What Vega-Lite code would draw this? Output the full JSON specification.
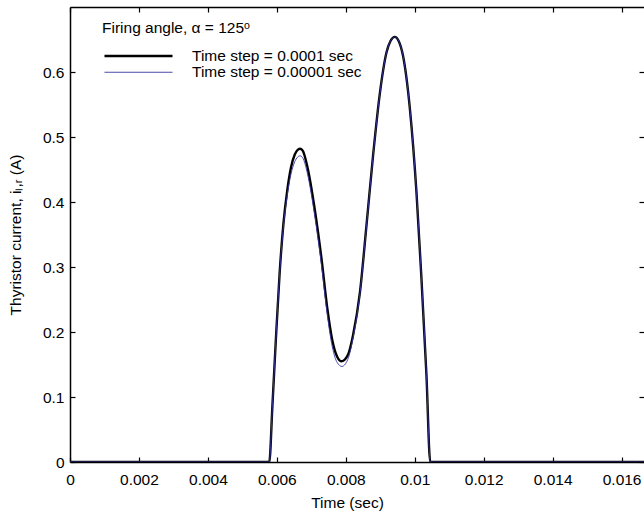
{
  "$schema": "https://vega.github.io/schema/vega-lite/v6.json",
  "width": 574,
  "height": 455,
  "autosize": {"type": "none"},
  "padding": {"left": 70, "top": 7, "right": 0, "bottom": 50},
  "background": "white",
  "config": {
    "view": {"stroke": null},
    "font": "Liberation Sans",
    "style": {
      "guide-title": {"font": "Liberation Sans", "fontSize": 15.5, "fontWeight": "normal", "fill": "#000"},
      "guide-label": {"font": "Liberation Sans", "fontSize": 15.5, "fill": "#000"}
    },
    "axis": {
      "grid": false,
      "domainColor": "#000",
      "domainWidth": 1.5,
      "tickColor": "#000",
      "tickWidth": 1.2,
      "tickSize": -5,
      "labelFont": "Liberation Sans",
      "labelFontSize": 15.5,
      "labelColor": "#000",
      "titleFont": "Liberation Sans",
      "titleFontSize": 15.5,
      "titleFontWeight": "normal",
      "titleColor": "#000"
    },
    "legend": {
      "titleFont": "Liberation Sans", "titleFontSize": 15.5, "titleFontWeight": "normal", "titleColor": "#000",
      "labelFont": "Liberation Sans", "labelFontSize": 15.5, "labelColor": "#000", "labelLimit": 400, "titleLimit": 400
    }
  },
  "data": {
    "values": [
      {"t": 0, "i": 0, "s": "Time step = 0.0001 sec"},
      {"t": 0.00578, "i": 0, "s": "Time step = 0.0001 sec"},
      {"t": 0.00587, "i": 0.085, "s": "Time step = 0.0001 sec"},
      {"t": 0.00597, "i": 0.187, "s": "Time step = 0.0001 sec"},
      {"t": 0.00608, "i": 0.29, "s": "Time step = 0.0001 sec"},
      {"t": 0.00619, "i": 0.366, "s": "Time step = 0.0001 sec"},
      {"t": 0.0063, "i": 0.417, "s": "Time step = 0.0001 sec"},
      {"t": 0.00641, "i": 0.453, "s": "Time step = 0.0001 sec"},
      {"t": 0.00652, "i": 0.473, "s": "Time step = 0.0001 sec"},
      {"t": 0.0066, "i": 0.48, "s": "Time step = 0.0001 sec"},
      {"t": 0.00667, "i": 0.482, "s": "Time step = 0.0001 sec"},
      {"t": 0.00675, "i": 0.479, "s": "Time step = 0.0001 sec"},
      {"t": 0.00689, "i": 0.453, "s": "Time step = 0.0001 sec"},
      {"t": 0.00709, "i": 0.392, "s": "Time step = 0.0001 sec"},
      {"t": 0.00729, "i": 0.315, "s": "Time step = 0.0001 sec"},
      {"t": 0.00746, "i": 0.238, "s": "Time step = 0.0001 sec"},
      {"t": 0.00761, "i": 0.187, "s": "Time step = 0.0001 sec"},
      {"t": 0.00775, "i": 0.162, "s": "Time step = 0.0001 sec"},
      {"t": 0.00788, "i": 0.155, "s": "Time step = 0.0001 sec"},
      {"t": 0.00798, "i": 0.158, "s": "Time step = 0.0001 sec"},
      {"t": 0.00808, "i": 0.167, "s": "Time step = 0.0001 sec"},
      {"t": 0.00821, "i": 0.195, "s": "Time step = 0.0001 sec"},
      {"t": 0.00841, "i": 0.261, "s": "Time step = 0.0001 sec"},
      {"t": 0.0086, "i": 0.364, "s": "Time step = 0.0001 sec"},
      {"t": 0.00879, "i": 0.471, "s": "Time step = 0.0001 sec"},
      {"t": 0.00899, "i": 0.568, "s": "Time step = 0.0001 sec"},
      {"t": 0.00918, "i": 0.63, "s": "Time step = 0.0001 sec"},
      {"t": 0.0093, "i": 0.648, "s": "Time step = 0.0001 sec"},
      {"t": 0.00942, "i": 0.654, "s": "Time step = 0.0001 sec"},
      {"t": 0.00954, "i": 0.647, "s": "Time step = 0.0001 sec"},
      {"t": 0.00966, "i": 0.625, "s": "Time step = 0.0001 sec"},
      {"t": 0.00986, "i": 0.543, "s": "Time step = 0.0001 sec"},
      {"t": 0.01005, "i": 0.415, "s": "Time step = 0.0001 sec"},
      {"t": 0.01019, "i": 0.287, "s": "Time step = 0.0001 sec"},
      {"t": 0.01034, "i": 0.133, "s": "Time step = 0.0001 sec"},
      {"t": 0.01045, "i": 0, "s": "Time step = 0.0001 sec"},
      {"t": 0.01665, "i": 0, "s": "Time step = 0.0001 sec"},
      {"t": 0, "i": 0, "s": "Time step = 0.00001 sec"},
      {"t": 0.00578, "i": 0, "s": "Time step = 0.00001 sec"},
      {"t": 0.00587, "i": 0.085, "s": "Time step = 0.00001 sec"},
      {"t": 0.00597, "i": 0.187, "s": "Time step = 0.00001 sec"},
      {"t": 0.00608, "i": 0.289, "s": "Time step = 0.00001 sec"},
      {"t": 0.00619, "i": 0.362, "s": "Time step = 0.00001 sec"},
      {"t": 0.0063, "i": 0.41, "s": "Time step = 0.00001 sec"},
      {"t": 0.00641, "i": 0.443, "s": "Time step = 0.00001 sec"},
      {"t": 0.00652, "i": 0.462, "s": "Time step = 0.00001 sec"},
      {"t": 0.0066, "i": 0.469, "s": "Time step = 0.00001 sec"},
      {"t": 0.00667, "i": 0.471, "s": "Time step = 0.00001 sec"},
      {"t": 0.00675, "i": 0.468, "s": "Time step = 0.00001 sec"},
      {"t": 0.00689, "i": 0.443, "s": "Time step = 0.00001 sec"},
      {"t": 0.00709, "i": 0.382, "s": "Time step = 0.00001 sec"},
      {"t": 0.00729, "i": 0.305, "s": "Time step = 0.00001 sec"},
      {"t": 0.00746, "i": 0.228, "s": "Time step = 0.00001 sec"},
      {"t": 0.00761, "i": 0.177, "s": "Time step = 0.00001 sec"},
      {"t": 0.00775, "i": 0.153, "s": "Time step = 0.00001 sec"},
      {"t": 0.00789, "i": 0.147, "s": "Time step = 0.00001 sec"},
      {"t": 0.00799, "i": 0.151, "s": "Time step = 0.00001 sec"},
      {"t": 0.00808, "i": 0.161, "s": "Time step = 0.00001 sec"},
      {"t": 0.00821, "i": 0.191, "s": "Time step = 0.00001 sec"},
      {"t": 0.00841, "i": 0.259, "s": "Time step = 0.00001 sec"},
      {"t": 0.0086, "i": 0.363, "s": "Time step = 0.00001 sec"},
      {"t": 0.00879, "i": 0.47, "s": "Time step = 0.00001 sec"},
      {"t": 0.00899, "i": 0.567, "s": "Time step = 0.00001 sec"},
      {"t": 0.00918, "i": 0.63, "s": "Time step = 0.00001 sec"},
      {"t": 0.0093, "i": 0.648, "s": "Time step = 0.00001 sec"},
      {"t": 0.00942, "i": 0.654, "s": "Time step = 0.00001 sec"},
      {"t": 0.00954, "i": 0.647, "s": "Time step = 0.00001 sec"},
      {"t": 0.00966, "i": 0.625, "s": "Time step = 0.00001 sec"},
      {"t": 0.00986, "i": 0.543, "s": "Time step = 0.00001 sec"},
      {"t": 0.01005, "i": 0.415, "s": "Time step = 0.00001 sec"},
      {"t": 0.01019, "i": 0.287, "s": "Time step = 0.00001 sec"},
      {"t": 0.01034, "i": 0.133, "s": "Time step = 0.00001 sec"},
      {"t": 0.01045, "i": 0, "s": "Time step = 0.00001 sec"},
      {"t": 0.01665, "i": 0, "s": "Time step = 0.00001 sec"}
    ]
  },
  "layer": [
    {
      "mark": {"type": "line", "interpolate": "monotone", "clip": true},
      "encoding": {
        "x": {
          "field": "t", "type": "quantitative",
          "scale": {"domain": [0, 0.01665], "nice": false, "zero": false},
          "axis": {
            "orient": "bottom", "title": "Time (sec)", "format": "~g",
            "values": [0, 0.002, 0.004, 0.006, 0.008, 0.01, 0.012, 0.014, 0.016],
            "labelPadding": 15, "labelFlush": false, "titlePadding": 8, "titleX": 277
          }
        },
        "y": {
          "field": "i", "type": "quantitative",
          "scale": {"domain": [0, 0.7], "nice": false},
          "axis": {
            "orient": "left", "title": "Thyristor current, iₗ,ᵣ (A)", "format": "~g",
            "values": [0, 0.1, 0.2, 0.3, 0.4, 0.5, 0.6],
            "labelPadding": 11, "labelFlush": false, "titlePadding": 19
          }
        },
        "color": {
          "field": "s", "type": "nominal",
          "scale": {"domain": ["Time step = 0.0001 sec", "Time step = 0.00001 sec"], "range": ["#000000", "#3535a0"]},
          "legend": {
            "orient": "none", "legendX": 32, "legendY": 14,
            "title": "Firing angle, α = 125ᵒ",
            "titleFontSize": 15.5, "titleFontWeight": "normal", "labelFontSize": 15.5, "labelLimit": 400,
            "symbolType": "M-0.86,0H8.86", "symbolSize": 196, "labelOffset": 73,
            "rowPadding": -1.5, "titlePadding": 11, "padding": 0
          }
        },
        "strokeWidth": {
          "field": "s", "type": "nominal",
          "scale": {"domain": ["Time step = 0.0001 sec", "Time step = 0.00001 sec"], "range": [2.4, 0.9]},
          "legend": {
            "orient": "none", "legendX": 32, "legendY": 14,
            "title": "Firing angle, α = 125ᵒ",
            "titleFontSize": 15.5, "titleFontWeight": "normal", "labelFontSize": 15.5, "labelLimit": 400,
            "symbolType": "M-0.86,0H8.86", "symbolSize": 196, "labelOffset": 73,
            "rowPadding": -1.5, "titlePadding": 11, "padding": 0
          }
        }
      }
    },
    {
      "mark": {"type": "point", "opacity": 0},
      "encoding": {
        "x": {
          "field": "t", "type": "quantitative",
          "scale": {"domain": [0, 0.01665], "nice": false, "zero": false},
          "axis": {
            "orient": "top", "title": null, "labels": false,
            "values": [0, 0.002, 0.004, 0.006, 0.008, 0.01, 0.012, 0.014, 0.016]
          }
        },
        "y": {
          "field": "i", "type": "quantitative",
          "scale": {"domain": [0, 0.7], "nice": false},
          "axis": {
            "orient": "right", "title": null, "labels": false, "domain": false,
            "values": [0, 0.1, 0.2, 0.3, 0.4, 0.5, 0.6]
          }
        }
      }
    }
  ],
  "resolve": {"axis": {"x": "independent", "y": "independent"}}
}
